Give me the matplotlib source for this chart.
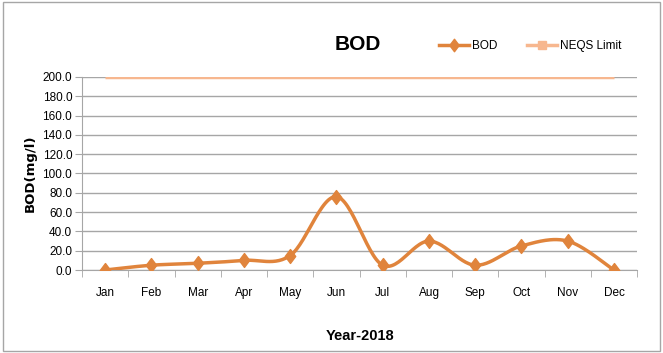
import numpy as np
import matplotlib
matplotlib.use("Agg")
import matplotlib.pyplot as plt
from matplotlib.lines import Line2D
from matplotlib.patches import Rectangle
from matplotlib.path import Path

months = ["Jan", "Feb", "Mar", "Apr", "May", "Jun", "Jul", "Aug", "Sep", "Oct", "Nov", "Dec"]
bod = [0, 5, 7, 10, 15, 76, 5, 30, 5, 25, 30, 0]
neqs = [200] * 12
yticks = [0, 20, 40, 60, 80, 100, 120, 140, 160, 180, 200]

plt.rcParams['font.family'] = ['Liberation Sans Narrow', 'Liberation Sans', 'DejaVu Sans']

def smooth(x, y, n=30):
    x = np.asarray(x, float); y = np.asarray(y, float)
    P = np.column_stack([x, y])
    out = []
    for i in range(len(P) - 1):
        p0 = P[i - 1] if i > 0 else P[i]
        p1 = P[i]; p2 = P[i + 1]
        p3 = P[i + 2] if i + 2 < len(P) else P[i + 1]
        c1 = p1 + (p2 - p0) / 6.0
        c2 = p2 - (p3 - p1) / 6.0
        t = np.linspace(0, 1, n)[:, None]
        seg = (1 - t) ** 3 * p1 + 3 * (1 - t) ** 2 * t * c1 + 3 * (1 - t) * t ** 2 * c2 + t ** 3 * p2
        out.append(seg if i == 0 else seg[1:])
    s = np.vstack(out)
    return s[:, 0], s[:, 1]

diamond = Path([(0, 1), (0.75, 0), (0, -1), (-0.75, 0), (0, 1)],
               [Path.MOVETO, Path.LINETO, Path.LINETO, Path.LINETO, Path.CLOSEPOLY])

fig = plt.figure(figsize=(6.63, 3.53), dpi=100)
fig.patches.append(Rectangle((0.004, 0.006), 0.992, 0.988, transform=fig.transFigure,
                             fill=False, edgecolor="#A6A6A6", linewidth=1.0))
ax = fig.add_axes([0.1237, 0.235, 0.8373, 0.547])

x = np.arange(len(months))
orange = "#E0843C"
limit_c = "#F7B78F"

ax.plot(x, neqs, color=limit_c, linewidth=2.5, solid_capstyle="butt", zorder=3)
sx, sy = smooth(x, bod)
ax.plot(sx, sy, color=orange, linewidth=2.5, zorder=4)
ax.plot(x, bod, linestyle="none", marker=diamond, markersize=10, color=orange, zorder=5)

ax.set_xlim(-0.5, 11.5)
ax.set_ylim(0, 200)
ax.set_yticks(yticks)
ax.set_yticklabels([f"{v:.1f}" for v in yticks], fontsize=8.5)
ax.set_xticks(x)
ax.set_xticklabels(months, fontsize=8.5)
ax.set_xticks(np.arange(-0.5, 12, 1), minor=True)
ax.tick_params(axis="x", which="major", length=0, pad=12)
ax.tick_params(axis="x", which="minor", length=5, color="#A6A6A6", direction="out")
ax.tick_params(axis="y", length=5, color="#A6A6A6", direction="out", pad=2)
ax.grid(axis="y", color="#A6A6A6", linewidth=1.0)
ax.set_axisbelow(True)
for s in ["top", "right"]:
    ax.spines[s].set_visible(False)
ax.spines["left"].set_color("#A6A6A6")
ax.spines["bottom"].set_color("#A6A6A6")

ax.set_ylabel("BOD(mg/l)", fontsize=9.5, fontweight="bold", family=["DejaVu Sans"], labelpad=4)
ax.set_xlabel("Year-2018", fontsize=10.5, fontweight="bold", labelpad=22)

fig.text(0.539, 0.875, "BOD", fontsize=15, fontweight="bold", ha="center", va="center")

handles = [Line2D([], [], color=orange, linewidth=2.5, marker=diamond, markersize=9),
           Line2D([], [], color=limit_c, linewidth=2.5, marker="s", markersize=6)]
fig.legend(handles, ["BOD", "NEQS Limit"], loc="center", bbox_to_anchor=(0.80, 0.87),
           ncol=2, frameon=False, fontsize=8.5, handlelength=2.5, columnspacing=2.5,
           handletextpad=0.3)

fig.savefig("out.png", dpi=100)
